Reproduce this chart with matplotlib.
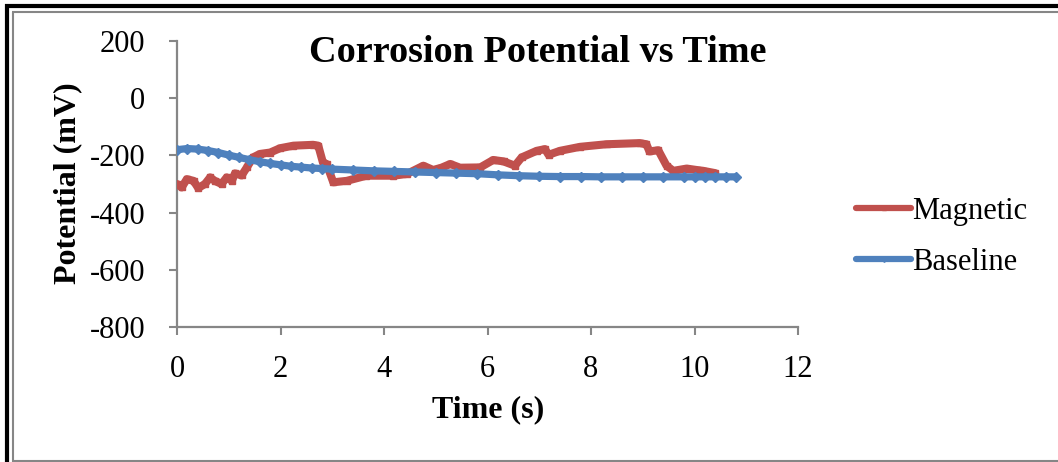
import matplotlib
matplotlib.use("Agg")
import matplotlib.pyplot as plt
from matplotlib.lines import Line2D

plt.rcParams['font.family'] = ['Liberation Serif', 'DejaVu Serif']

# Magnetic run: time (s) and corrosion potential (mV)
magnetic_time = [0, 0.09, 0.19, 0.32, 0.41, 0.54, 0.64, 0.73, 0.86, 0.96, 1.06, 1.12,
                 1.25, 1.35, 1.47, 1.6, 1.8, 1.99, 2.25, 2.63, 2.73, 2.82, 2.89, 3.02,
                 3.28, 3.66, 4.18, 4.44, 4.76, 4.95, 5.11, 5.28, 5.47, 5.86, 6.11, 6.31,
                 6.53, 6.66, 6.95, 7.11, 7.18, 7.4, 7.79, 8.3, 8.94, 9.07, 9.13, 9.3,
                 9.46, 9.59, 9.85, 10.04, 10.17, 10.4]
magnetic_mv = [-300, -312, -283, -289, -314, -300, -277, -289, -300, -277, -289, -263,
               -270, -242, -207, -195, -190, -175, -166, -163, -166, -225, -230, -294,
               -289, -271, -271, -265, -236, -251, -243, -230, -243, -242, -216, -221,
               -236, -207, -184, -178, -198, -184, -170, -161, -157, -161, -186, -182,
               -236, -254, -246, -251, -254, -262]

# Baseline run: time (s) and corrosion potential (mV)
baseline_time = [0, 0.2, 0.4, 0.6, 0.8, 1.0, 1.2, 1.4, 1.6, 1.8, 2.0, 2.2, 2.4, 2.6,
                 2.8, 3.0, 3.4, 3.8, 4.2, 4.6, 5.0, 5.4, 5.8, 6.2, 6.6, 7.0, 7.4, 7.8,
                 8.2, 8.6, 9.0, 9.4, 9.8, 10.0, 10.2, 10.4, 10.6, 10.8]
baseline_mv = [-180, -176, -178, -183, -190, -199, -207, -215, -222, -228, -233, -238,
               -241, -244, -246, -248, -251, -254, -256, -258, -260, -262, -264, -268,
               -271, -273, -274, -274, -275, -275, -275, -275, -275, -275, -275, -275,
               -275, -275]

x_ticks = [0, 2, 4, 6, 8, 10, 12]
y_ticks = [200, 0, -200, -400, -600, -800]

RED = '#C0504D'
BLUE = '#4F81BD'
GRAY = '#868686'

W, H = 1058, 462
fig = plt.figure(figsize=(W / 100, H / 100), dpi=100)
fig.patch.set_facecolor('white')

ax = fig.add_axes([177 / W, 1 - 327 / H, (798 - 177) / W, (327 - 41) / H])

ax.plot(magnetic_time, magnetic_mv, color=RED, lw=5.8, marker='s', ms=4.5,
        solid_joinstyle='round', solid_capstyle='round', label='Magnetic', zorder=3)
ax.plot(baseline_time, baseline_mv, color=BLUE, lw=5.2, marker='D', ms=4.8,
        solid_joinstyle='round', solid_capstyle='round', label='Baseline', zorder=4)

ax.set_xlim(0, 12)
ax.set_ylim(-800, 200)
ax.set_xticks(x_ticks)
ax.set_yticks(y_ticks)
ax.set_xticklabels([str(v) for v in x_ticks])
ax.set_yticklabels([str(v) for v in y_ticks])

for side in ('top', 'right'):
    ax.spines[side].set_visible(False)
for side in ('left', 'bottom'):
    ax.spines[side].set_color(GRAY)
    ax.spines[side].set_linewidth(1.6)
ax.tick_params(axis='both', direction='out', length=6, width=1.5, color=GRAY,
               labelsize=22, labelcolor='black')
ax.tick_params(axis='y', pad=17)
ax.tick_params(axis='x', pad=14)

fig.text(538 / W, 1 - 52 / H, 'Corrosion Potential vs Time', ha='center', va='center',
         fontsize=27.5, fontweight='bold')
fig.text(68 / W, 1 - 183 / H, 'Potential (mV)', ha='center', va='center',
         rotation=90, fontsize=23, fontweight='bold')
fig.text(488 / W, 1 - 410 / H, 'Time (s)', ha='center', va='center',
         fontsize=23, fontweight='bold')

leg = fig.legend(loc='center left', bbox_to_anchor=(856 / W, 1 - 237 / H),
                 frameon=False, fontsize=22, handlelength=1.8, handletextpad=0.05,
                 labelspacing=0.72, borderpad=0, borderaxespad=0, markerscale=0.6)
for handle in leg.legend_handles:
    handle.set_linewidth(4.5)

# Outer frame: black border on top and left, gray chart-area outline inside it
def frame_line(x0, y0, x1, y1, color, lw):
    fig.add_artist(Line2D([x0 / W, x1 / W], [1 - y0 / H, 1 - y1 / H],
                          transform=fig.transFigure, color=color, lw=lw,
                          solid_capstyle='butt'))

frame_line(7, 4, 7, H, 'black', 3.0)
frame_line(5, 6, W, 6, 'black', 3.0)
frame_line(12.5, 12, 12.5, H, GRAY, 1.5)
frame_line(12, 11.5, W, 11.5, GRAY, 1.5)
frame_line(12, 460.5, W, 460.5, GRAY, 1.5)

fig.savefig('out.png', dpi=100, facecolor='white')
